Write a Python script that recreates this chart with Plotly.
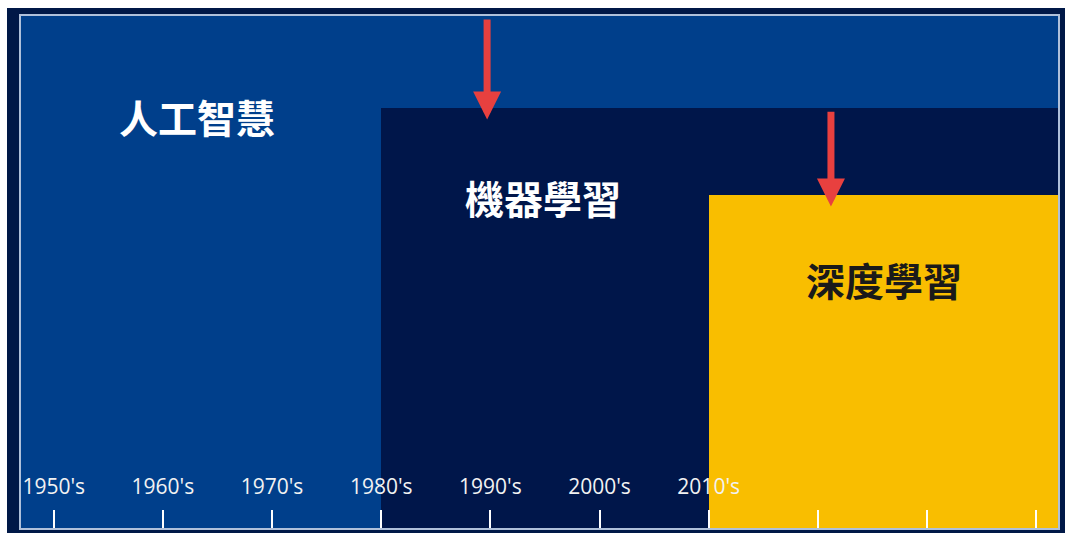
import plotly.graph_objects as go

# ---- data ----
categories = ["人工智慧", "機器學習", "深度學習"]
start_year = [1947, 1980, 2010]
end_year = [2042, 2042, 2042]
level = [100, 82, 65]
region_colors = ["#003F8B", "#00164A", "#F9BE00"]
text_colors = ["#FFFFFF", "#FFFFFF", "#1A1A1A"]

tick_years = [1950, 1960, 1970, 1980, 1990, 2000, 2010, 2020, 2030, 2040]
tick_labels = ["1950's", "1960's", "1970's", "1980's", "1990's", "2000's", "2010's"]

# arrows: x position, tail level, head level
arrow_x = [1989.7, 2021.2]
arrow_tail = [99.6, 81.6]
arrow_head = [79.8, 62.8]

# label positions (layout)
label_x = [1963.1, 1994.8, 2026.1]
label_y = [80.5, 64.7, 48.6]

fig = go.Figure()
for name, s, e, lv, c in zip(categories, start_year, end_year, level, region_colors):
    fig.add_trace(go.Bar(x=[s], y=[lv], base=0, width=[e - s], offset=0,
                         marker=dict(color=c, line=dict(width=0)),
                         name=name, showlegend=False, hoverinfo="skip"))

# decade labels
fig.add_trace(go.Scatter(x=tick_years[:len(tick_labels)], y=[7.6] * len(tick_labels),
                         mode="text", text=tick_labels, textposition="middle center",
                         textfont=dict(family="Open Sans, sans-serif", size=21, color="#F2F2F2"),
                         showlegend=False, hoverinfo="skip"))

# category labels
for name, x, y, tc in zip(categories, label_x, label_y, text_colors):
    fig.add_annotation(x=x, y=y, xref="x", yref="y", text="<b>" + name + "</b>",
                       showarrow=False,
                       font=dict(family="Noto Sans CJK TC", size=39, color=tc))

# arrows
for ax_, t, h in zip(arrow_x, arrow_tail, arrow_head):
    fig.add_annotation(x=ax_, y=h, ax=ax_, ay=t, xref="x", yref="y", axref="x", ayref="y",
                       text="", showarrow=True, arrowhead=2, arrowsize=0.8,
                       arrowwidth=7, arrowcolor="#E8403F", standoff=0, startstandoff=0)

W, H = 1065, 533
L, R, T, B = 21, 7, 16, 5
pw, ph = W - L - R, H - T - B

# outer dark navy background (paper coords)
fig.add_shape(type="rect", xref="paper", yref="paper",
              x0=(7 - L) / pw, x1=(W - L) / pw,
              y0=-(B) / ph, y1=1 + (T - 8) / ph,
              fillcolor="#001847", line=dict(width=0), layer="below")

fig.update_layout(
    width=W, height=H,
    margin=dict(l=L, r=R, t=T, b=B),
    paper_bgcolor="#FFFFFF",
    plot_bgcolor="#003F8B",
    barmode="overlay",
    bargap=0,
    xaxis=dict(range=[start_year[0], end_year[0]], tickvals=tick_years,
               showticklabels=False, ticks="inside", ticklen=18, tickwidth=2,
               tickcolor="#FFFFFF", showgrid=False, zeroline=False,
               showline=True, mirror=True, linecolor="#AFC0DA", linewidth=2),
    yaxis=dict(range=[0, 100], showticklabels=False, ticks="", showgrid=False,
               zeroline=False, showline=True, mirror=True, linecolor="#AFC0DA",
               linewidth=2),
)

fig.write_html("out.html")
